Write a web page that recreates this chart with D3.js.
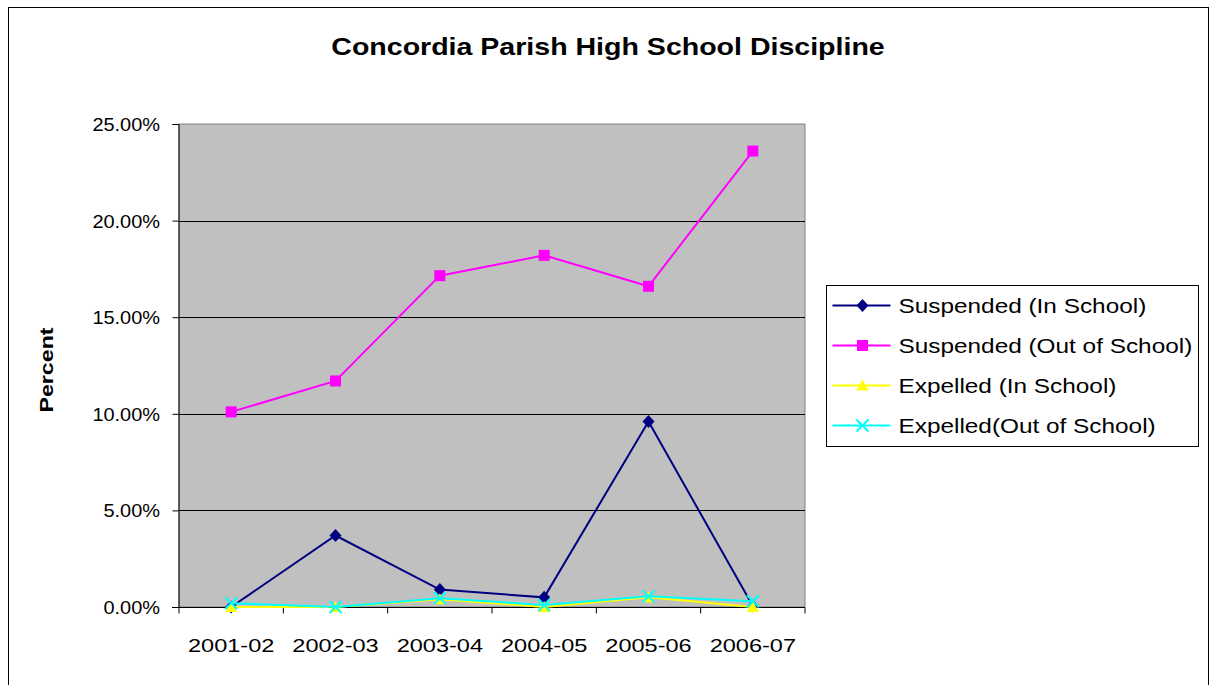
<!DOCTYPE html>
<html>
<head>
<meta charset="utf-8">
<script src="https://cdn.jsdelivr.net/npm/d3@7"></script>
<style>
  body { margin: 0; background: #fff; }
  text { font-family: "Liberation Sans", Arial, sans-serif; fill: #000; }
</style>
</head>
<body>
<script>
// chart data
var years = ["2001-02", "2002-03", "2003-04", "2004-05", "2005-06", "2006-07"];
var suspIn = [0.0, 3.7, 0.9, 0.5, 9.6, 0.05];
var suspOut = [10.1, 11.7, 17.15, 18.2, 16.6, 23.6];
var expIn = [0.0, 0.0, 0.4, 0.0, 0.5, 0.0];
var expOut = [0.2, 0.0, 0.45, 0.1, 0.55, 0.3];
var seriesNames = ["Suspended (In School)", "Suspended (Out of School)", "Expelled (In School)", "Expelled(Out of School)"];
var yTicks = [0, 5, 10, 15, 20, 25];

var series = [
  {name: seriesNames[0], values: suspIn, color: "#000080", marker: "diamond"},
  {name: seriesNames[1], values: suspOut, color: "#ff00ff", marker: "square"},
  {name: seriesNames[2], values: expIn, color: "#ffff00", marker: "triangle"},
  {name: seriesNames[3], values: expOut, color: "#00ffff", marker: "x"}
];

var width = 1209, height = 685;
var svg = d3.select("body").append("svg")
  .attr("width", width)
  .attr("height", height);

// the original text is a bit wider than Liberation Sans, so stretch it
function stretchedText(parent, tx, ty, txt, size, sx, anchor, bold, rot) {
  var g = parent.append("g")
    .attr("transform", "translate(" + tx + "," + ty + ")" + (rot ? " rotate(" + rot + ")" : "") + " scale(" + sx + ",1)");
  return g.append("text")
    .attr("text-anchor", anchor)
    .attr("font-size", size)
    .attr("font-weight", bold ? "bold" : "normal")
    .text(txt);
}

// outer chart border
svg.append("rect")
  .attr("x", 8.5).attr("y", 7.5)
  .attr("width", 1200).attr("height", 690)
  .attr("fill", "#fff").attr("stroke", "#000").attr("stroke-width", 1);

var plot = {left: 179, top: 124, right: 805, bottom: 607};

var x = d3.scaleBand().domain(years).range([plot.left, plot.right]);
var y = d3.scaleLinear().domain([0, 25]).range([plot.bottom, plot.top]);

// plot area
svg.append("rect")
  .attr("x", plot.left).attr("y", plot.top)
  .attr("width", plot.right - plot.left).attr("height", plot.bottom - plot.top)
  .attr("fill", "#c0c0c0").attr("stroke", "#808080").attr("stroke-width", 1);

// gridlines
svg.append("g").selectAll("line")
  .data(yTicks.filter(function(d){ return d > 0 && d < 25; }))
  .enter().append("line")
  .attr("x1", plot.left).attr("x2", plot.right)
  .attr("y1", function(d){ return Math.round(y(d)) + 0.5; })
  .attr("y2", function(d){ return Math.round(y(d)) + 0.5; })
  .attr("stroke", "#000").attr("stroke-width", 1);

// y axis
var yAxis = svg.append("g")
  .attr("transform", "translate(" + (plot.left - 0.5) + ",0)")
  .call(d3.axisLeft(y).tickValues(yTicks).tickSize(6).tickFormat(""));
yAxis.select(".domain").attr("stroke", "#000");
yTicks.forEach(function(d){
  stretchedText(svg, 160, y(d) + 7, d.toFixed(2) + "%", 19, 1.05, "end", false);
});

// x axis
var xAxis = svg.append("g")
  .attr("transform", "translate(0," + (plot.bottom + 0.5) + ")");
xAxis.append("line")
  .attr("x1", plot.left - 7).attr("x2", plot.right)
  .attr("stroke", "#000");
xAxis.selectAll(".tk")
  .data(years.concat(["end"]))
  .enter().append("line")
  .attr("x1", function(d, i){ return plot.left + i * x.bandwidth(); })
  .attr("x2", function(d, i){ return plot.left + i * x.bandwidth(); })
  .attr("y1", 0).attr("y2", 6)
  .attr("stroke", "#000");
years.forEach(function(d){
  stretchedText(svg, x(d) + x.bandwidth() / 2, 652, d, 19, 1.24, "middle", false);
});

// title and axis title
stretchedText(svg, 608, 55, "Concordia Parish High School Discipline", 24, 1.19, "middle", true);
stretchedText(svg, 53, 370, "Percent", 19, 1.22, "middle", true, -90);

function drawMarker(g, type, color) {
  if (type === "diamond") {
    g.append("path").attr("d", "M0,-6.5L6,0L0,6.5L-6,0Z").attr("fill", color);
  } else if (type === "square") {
    g.append("rect").attr("x", -5.5).attr("y", -5.5).attr("width", 11).attr("height", 11)
      .attr("fill", color);
  } else if (type === "triangle") {
    g.append("path").attr("d", "M0,-6L6,5L-6,5Z").attr("fill", color);
  } else {
    g.append("path").attr("d", "M-6,-6L6,6M6,-6L-6,6")
      .attr("stroke", color).attr("stroke-width", 2).attr("fill", "none");
  }
}

var line = d3.line()
  .x(function(d, i){ return x(years[i]) + x.bandwidth() / 2; })
  .y(function(d){ return y(d); });

series.forEach(function(s){
  var g = svg.append("g");
  g.append("path")
    .attr("d", line(s.values))
    .attr("fill", "none")
    .attr("stroke", s.color)
    .attr("stroke-width", 2);
  s.values.forEach(function(v, i){
    var m = g.append("g")
      .attr("transform", "translate(" + (x(years[i]) + x.bandwidth() / 2) + "," + y(v) + ")");
    drawMarker(m, s.marker, s.color);
  });
});

// legend
var legend = svg.append("g").attr("transform", "translate(826.5,285.5)");
legend.append("rect")
  .attr("width", 372).attr("height", 161)
  .attr("fill", "#fff").attr("stroke", "#000");
series.forEach(function(s, i){
  var ly = 20 + i * 40;
  var row = legend.append("g").attr("transform", "translate(0," + ly + ")");
  row.append("line").attr("x1", 6).attr("x2", 64).attr("y1", 0).attr("y2", 0)
    .attr("stroke", s.color).attr("stroke-width", 2);
  var m = row.append("g").attr("transform", "translate(36,0)");
  drawMarker(m, s.marker, s.color);
  stretchedText(row, 72, 7, s.name, 21, 1.16, "start", false);
});
</script>
</body>
</html>
